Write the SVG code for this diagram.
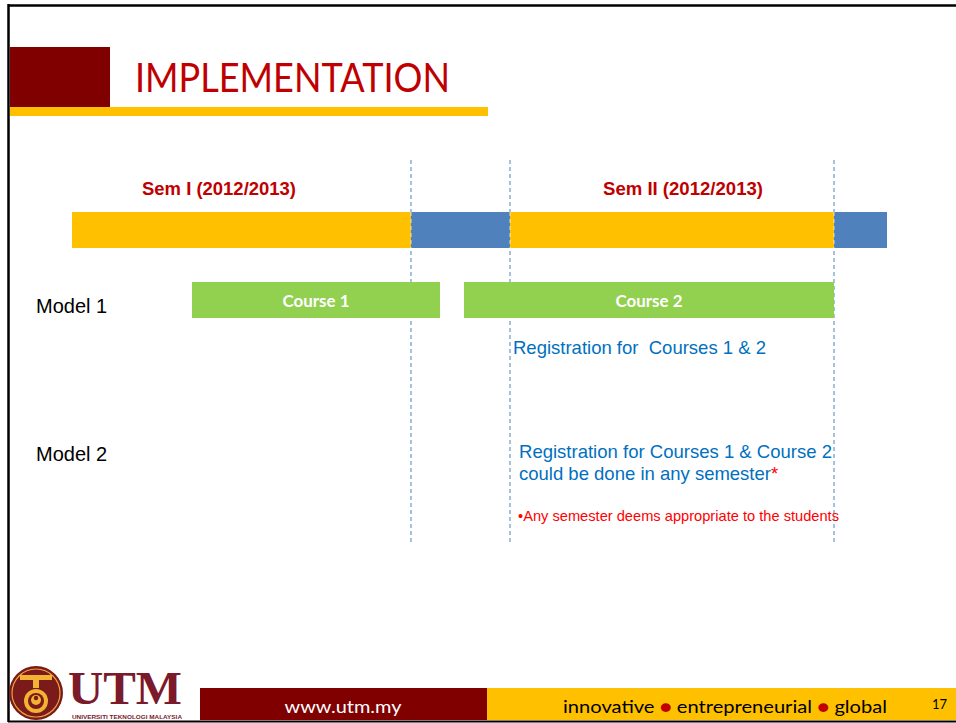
<svg xmlns="http://www.w3.org/2000/svg" width="956" height="723" viewBox="0 0 956 723">
  <style>
    .sem { font-family: "Liberation Sans", Arial, sans-serif; font-weight: bold; font-size: 18.5px; fill: #C00000; }
    .model { font-family: "Liberation Sans", Arial, sans-serif; font-size: 20px; fill: #000000; }
    .reg { font-family: "Liberation Sans", Arial, sans-serif; font-size: 18.5px; fill: #0070C0; }
    .note { font-family: "Liberation Sans", Arial, sans-serif; font-size: 14.5px; fill: #FF0000; }
    .course { font-family: Lato, "Open Sans", sans-serif; font-weight: bold; font-size: 17px; fill: #FFFFFF; }
    .foot { font-family: Lato, "Open Sans", sans-serif; font-size: 18px; }
    .guide { stroke: #4F81BD; stroke-width: 1; stroke-dasharray: 4 3; fill: none; }
    .yellow { fill: #FFC000; }
    .blue { fill: #4F81BD; }
    .green { fill: #92D050; }
  </style>
  <rect x="0" y="0" width="956" height="723" fill="#FFFFFF"/>

  <!-- slide frame -->
  <g id="frame">
    <line x1="8" y1="5.5" x2="956" y2="5.5" stroke="#000" stroke-width="2.5"/>
    <line x1="8.5" y1="4" x2="8.5" y2="722" stroke="#000" stroke-width="2.5"/>
    <line x1="8" y1="721.5" x2="956" y2="721.5" stroke="#000" stroke-width="2"/>
  </g>

  <!-- title -->
  <g id="title">
    <rect x="10" y="47" width="100" height="60" fill="#800000"/>
    <rect x="10" y="107" width="478" height="9" fill="#FFC000"/>
    <text x="135" y="92" font-family="Lato, 'Open Sans', sans-serif" font-size="40" fill="#C00000" textLength="315" lengthAdjust="spacingAndGlyphs">IMPLEMENTATION</text>
  </g>

  <!-- guide lines (behind bars) -->
  <g id="connectors">
    <line class="guide" x1="411" y1="160" x2="411" y2="544"/>
    <line class="guide" x1="510" y1="160" x2="510" y2="545"/>
    <line class="guide" x1="834" y1="160" x2="834" y2="545"/>
  </g>

  <!-- semester labels -->
  <g id="sem1">
    <text class="sem" x="142" y="195" textLength="154" lengthAdjust="spacingAndGlyphs">Sem I (2012/2013)</text>
  </g>
  <g id="sem2">
    <text class="sem" x="603" y="195" textLength="160" lengthAdjust="spacingAndGlyphs">Sem II (2012/2013)</text>
  </g>

  <!-- timeline -->
  <g id="timeline">
    <rect class="yellow" x="72" y="212" width="339" height="36"/>
    <rect class="blue" x="411" y="212" width="99" height="36"/>
    <rect class="yellow" x="510" y="212" width="324" height="36"/>
    <rect class="blue" x="834" y="212" width="53" height="36"/>
    <line x1="411" y1="212" x2="411" y2="248" stroke="#FFFFFF" stroke-width="1" stroke-dasharray="4 3" opacity="0.7"/>
    <line x1="510" y1="212" x2="510" y2="248" stroke="#FFFFFF" stroke-width="1" stroke-dasharray="4 3" opacity="0.7"/>
    <line x1="834" y1="212" x2="834" y2="248" stroke="#FFFFFF" stroke-width="1" stroke-dasharray="4 3" opacity="0.7"/>
  </g>

  <!-- model 1 -->
  <g id="model1">
    <text class="model" x="36" y="313">Model 1</text>
  </g>
  <g id="course1">
    <rect class="green" x="192" y="282" width="248" height="36"/>
    <text class="course" x="316" y="307" text-anchor="middle" textLength="67" lengthAdjust="spacingAndGlyphs">Course 1</text>
  </g>
  <g id="course2">
    <rect class="green" x="464" y="282" width="370" height="36"/>
    <text class="course" x="649" y="307" text-anchor="middle" textLength="67" lengthAdjust="spacingAndGlyphs">Course 2</text>
  </g>
  <g id="reg1">
    <text class="reg" x="513" y="354" xml:space="preserve" textLength="253" lengthAdjust="spacingAndGlyphs">Registration for  Courses 1 &amp; 2</text>
  </g>

  <!-- model 2 -->
  <g id="model2">
    <text class="model" x="36" y="461">Model 2</text>
  </g>
  <g id="reg2">
    <text class="reg" x="519" y="458" textLength="313" lengthAdjust="spacingAndGlyphs">Registration for Courses 1 &amp; Course 2</text>
    <text class="reg" x="519" y="480">could be done in any semester<tspan fill="#FF0000">*</tspan></text>
  </g>
  <g id="note">
    <text class="note" x="518" y="521" textLength="321" lengthAdjust="spacingAndGlyphs">•Any semester deems appropriate to the students</text>
  </g>

  <!-- footer -->
  <g id="footer">
    <rect x="200" y="688" width="287" height="32" fill="#800000"/>
    <rect x="487" y="688" width="469" height="32" fill="#FFC000"/>
    <text class="foot" x="343" y="713" text-anchor="middle" fill="#FFFFFF" textLength="117" lengthAdjust="spacingAndGlyphs">www.utm.my</text>
    <text class="foot" x="563" y="713" fill="#000000" textLength="324" lengthAdjust="spacingAndGlyphs">innovative <tspan fill="#C00000">●</tspan> entrepreneurial <tspan fill="#C00000">●</tspan> global</text>
    <text x="932" y="709" font-family="Lato, 'Open Sans', sans-serif" font-size="13" fill="#000000">17</text>
  </g>

  <!-- logo -->
  <g id="logo">
    <circle cx="36" cy="693" r="27" fill="#7A1A1A"/>
    <circle cx="36" cy="693" r="24" fill="none" stroke="#E8A33A" stroke-width="1.2"/>
    <rect x="20" y="675" width="32" height="5" fill="#F2B233"/>
    <rect x="33" y="680" width="6" height="8" fill="#F2B233"/>
    <circle cx="36" cy="701" r="12" fill="#F2B233"/>
    <circle cx="36" cy="701" r="8" fill="#7A1A1A"/>
    <circle cx="36" cy="700" r="5" fill="#F2B233"/>
    <circle cx="36" cy="698" r="2.2" fill="#7A1A1A"/>
    <text x="68" y="704" font-family="'Liberation Serif', 'Times New Roman', serif" font-weight="bold" font-size="46" fill="#7A1A2A" textLength="114" lengthAdjust="spacingAndGlyphs">UTM</text>
    <text x="72" y="719" font-family="'Liberation Sans', Arial, sans-serif" font-weight="bold" font-size="5.5" fill="#7A1A2A" textLength="110" lengthAdjust="spacingAndGlyphs">UNIVERSITI TEKNOLOGI MALAYSIA</text>
  </g>
</svg>
